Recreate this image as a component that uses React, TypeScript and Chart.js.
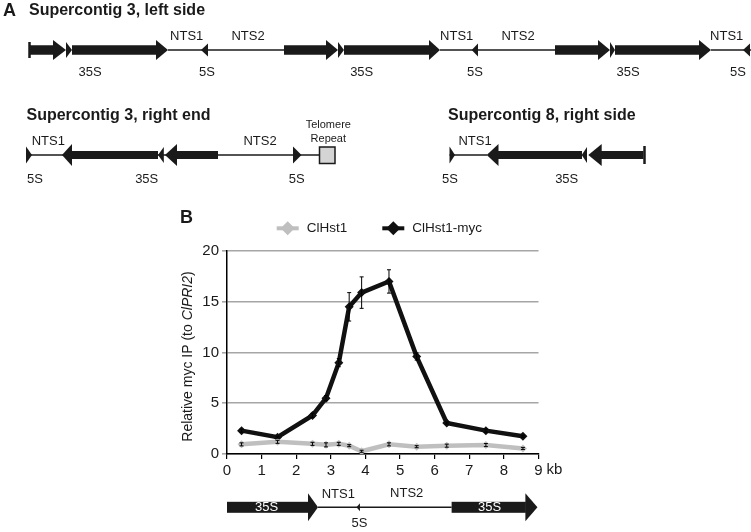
import React, { useEffect, useRef } from "react";
import { Chart, registerables } from "chart.js";

Chart.register(...registerables);

// ---------- data ----------
const positionsKb = [0.42, 1.46, 2.47, 2.86, 3.23, 3.53, 3.89, 4.68, 5.48, 6.35, 7.48, 8.55];
const hst1Values = [0.95, 1.2, 1.0, 0.9, 1.0, 0.82, 0.27, 0.95, 0.72, 0.82, 0.88, 0.55];
const hst1Errors = [0.15, 0.15, 0.15, 0.2, 0.15, 0.1, 0.1, 0.15, 0.1, 0.15, 0.15, 0.1];
const mycValues = [2.3, 1.65, 3.8, 5.5, 9.0, 14.5, 15.9, 17.0, 9.6, 3.05, 2.3, 1.75];
const mycErrors = [0.15, 0.1, 0.2, 0.25, 0.4, 1.4, 1.55, 1.15, 0.35, 0.1, 0.15, 0.1];
const seriesLabels = ["ClHst1", "ClHst1-myc"];
const seriesColors = ["#bfbfbf", "#111111"];
const yMin = 0;
const yMax = 20;
const yStep = 5;
const xMin = 0;
const xMax = 9;
const xUnit = "kb";
const yTitleParts = ["Relative myc IP (to ", "ClPRI2", ")"];
// rDNA unit features drawn under the x axis (in kb)
const unit35SLeftEnd = 2.34;
const unit35SLeftTip = 2.63;
const unit5S = 3.74;
const unit35SRightStart = 6.49;
const unit35SRightBase = 8.62;
const unit35SRightTip = 8.97;

const FONT = '"Liberation Sans", Arial, Helvetica, sans-serif';
const INK = "#1a1a1a";

type Ctx = CanvasRenderingContext2D;

function bar(ctx: Ctx, x1: number, x2: number, y: number, h: number) {
  ctx.fillStyle = INK;
  ctx.fillRect(x1, y - h / 2, x2 - x1, h);
}
function head(ctx: Ctx, base: number, tip: number, y: number, half: number) {
  ctx.fillStyle = INK;
  ctx.beginPath();
  ctx.moveTo(base, y - half);
  ctx.lineTo(tip, y);
  ctx.lineTo(base, y + half);
  ctx.closePath();
  ctx.fill();
}
function thin(ctx: Ctx, x1: number, x2: number, y: number, w = 1.3) {
  ctx.strokeStyle = INK;
  ctx.lineWidth = w;
  ctx.beginPath();
  ctx.moveTo(x1, y);
  ctx.lineTo(x2, y);
  ctx.stroke();
}
function cap(ctx: Ctx, x: number, y: number, half: number) {
  ctx.strokeStyle = INK;
  ctx.lineWidth = 2.5;
  ctx.beginPath();
  ctx.moveTo(x, y - half);
  ctx.lineTo(x, y + half);
  ctx.stroke();
}
function txt(ctx: Ctx, s: string, x: number, y: number, font: string, align: CanvasTextAlign = "center", color = INK) {
  ctx.font = font;
  ctx.fillStyle = color;
  ctx.textAlign = align;
  ctx.textBaseline = "middle";
  ctx.fillText(s, x, y);
}

function drawDiagrams(ctx: Ctx) {
  const title = `bold 16px ${FONT}`;
  const lab = `13px ${FONT}`;
  // Panel A
  txt(ctx, "A", 3, 11, `bold 18px ${FONT}`, "left");
  txt(ctx, "Supercontig 3, left side", 29, 11, title, "left");
  const yA = 50;
  thin(ctx, 168, 284, yA);
  thin(ctx, 440, 555, yA);
  thin(ctx, 711, 751, yA);
  cap(ctx, 29.5, yA, 8);
  bar(ctx, 30, 54, yA, 9.5);
  head(ctx, 53, 66, yA, 10);
  head(ctx, 66, 72, yA, 8);
  bar(ctx, 72, 157, yA, 9.5);
  head(ctx, 156, 168, yA, 10);
  head(ctx, 208, 201, yA, 6.5);
  bar(ctx, 284, 327, yA, 9.5);
  head(ctx, 326, 338, yA, 10);
  head(ctx, 338, 344, yA, 8);
  bar(ctx, 344, 430, yA, 9.5);
  head(ctx, 429, 440, yA, 10);
  head(ctx, 478, 471.7, yA, 6.5);
  bar(ctx, 555, 599, yA, 9.5);
  head(ctx, 598, 610, yA, 10);
  head(ctx, 610, 615, yA, 8);
  bar(ctx, 615, 700, yA, 9.5);
  head(ctx, 699, 711, yA, 10);
  head(ctx, 750, 743, yA, 6.5);
  [["35S", 90, 72], ["NTS1", 186.7, 36], ["5S", 207, 72], ["NTS2", 248, 36], ["35S", 361.7, 72],
   ["NTS1", 456.7, 36], ["5S", 475, 72], ["NTS2", 518, 36], ["35S", 628, 72], ["NTS1", 726.7, 36], ["5S", 738, 72]]
    .forEach(([s, x, y]) => txt(ctx, s as string, x as number, y as number, lab));

  // Supercontig 3, right end
  txt(ctx, "Supercontig 3, right end", 26.5, 115.5, title, "left");
  const y2 = 155;
  thin(ctx, 26, 320, y2);
  head(ctx, 26, 32, y2, 8.5);
  head(ctx, 72, 62, y2, 11);
  bar(ctx, 71, 158, y2, 8);
  head(ctx, 163.8, 158, y2, 8);
  head(ctx, 177, 165, y2, 11);
  bar(ctx, 176, 218, y2, 8);
  head(ctx, 293, 301.5, y2, 8.5);
  ctx.fillStyle = "#d4d4d4";
  ctx.fillRect(319.5, 147, 15.5, 16.5);
  ctx.strokeStyle = INK;
  ctx.lineWidth = 1.5;
  ctx.strokeRect(319.5, 147, 15.5, 16.5);
  [["NTS1", 48.3, 141.7], ["5S", 35, 179], ["35S", 146.7, 179], ["NTS2", 260, 141.7], ["5S", 296.7, 179]]
    .forEach(([s, x, y]) => txt(ctx, s as string, x as number, y as number, lab));
  txt(ctx, "Telomere", 328.3, 125, `11px ${FONT}`);
  txt(ctx, "Repeat", 328.3, 139.3, `11px ${FONT}`);

  // Supercontig 8, right side
  txt(ctx, "Supercontig 8, right side", 448, 115.5, title, "left");
  const y3 = 155;
  thin(ctx, 449.5, 487, y3);
  head(ctx, 449.5, 455, y3, 8.5);
  head(ctx, 498.5, 486.7, y3, 11);
  bar(ctx, 498, 582, y3, 8);
  head(ctx, 587, 581.7, y3, 8);
  head(ctx, 601.7, 588.3, y3, 11);
  bar(ctx, 601, 643.5, y3, 8);
  cap(ctx, 644.5, y3, 9);
  [["NTS1", 475, 141.7], ["5S", 450, 179], ["35S", 566.7, 179]]
    .forEach(([s, x, y]) => txt(ctx, s as string, x as number, y as number, lab));
}

const customPlugin = {
  id: "custom",
  afterDatasetsDraw(chart: any) {
    const ctx: Ctx = chart.ctx;
    const xs = chart.scales.x;
    const ys = chart.scales.y;
    const errs = [hst1Errors, mycErrors];
    const vals = [hst1Values, mycValues];
    ctx.save();
    ctx.strokeStyle = "#000";
    ctx.lineWidth = 1;
    vals.forEach((v, si) => {
      v.forEach((val, i) => {
        const x = xs.getPixelForValue(positionsKb[i]);
        const yt = ys.getPixelForValue(val + errs[si][i]);
        const yb = ys.getPixelForValue(val - errs[si][i]);
        ctx.beginPath();
        ctx.moveTo(x, yt);
        ctx.lineTo(x, yb);
        ctx.moveTo(x - 2, yt);
        ctx.lineTo(x + 2, yt);
        ctx.moveTo(x - 2, yb);
        ctx.lineTo(x + 2, yb);
        ctx.stroke();
      });
    });
    ctx.restore();
  },
  afterDraw(chart: any) {
    const ctx: Ctx = chart.ctx;
    const xs = chart.scales.x;
    const ys = chart.scales.y;
    ctx.save();
    drawDiagrams(ctx);

    // Panel B label
    txt(ctx, "B", 180, 218, `bold 18px ${FONT}`, "left");

    // legend
    const legY = 228.3;
    const legX = [276.7, 382.3];
    chart.data.datasets.forEach((ds: any, i: number) => {
      const x0 = legX[i];
      ctx.strokeStyle = ds.borderColor;
      ctx.lineWidth = 4;
      ctx.beginPath();
      ctx.moveTo(x0, legY);
      ctx.lineTo(x0 + 22, legY);
      ctx.stroke();
      ctx.fillStyle = ds.borderColor;
      const cx = x0 + 11;
      ctx.beginPath();
      ctx.moveTo(cx, legY - 7);
      ctx.lineTo(cx + 7, legY);
      ctx.lineTo(cx, legY + 7);
      ctx.lineTo(cx - 7, legY);
      ctx.closePath();
      ctx.fill();
      txt(ctx, ds.label, x0 + 30, legY, `13.5px ${FONT}`, "left");
    });

    // y axis title with italic gene name
    const fN = `14px ${FONT}`;
    const fI = `italic 14px ${FONT}`;
    ctx.font = fN;
    const w0 = ctx.measureText(yTitleParts[0]).width;
    const w2 = ctx.measureText(yTitleParts[2]).width;
    ctx.font = fI;
    const w1 = ctx.measureText(yTitleParts[1]).width;
    const total = w0 + w1 + w2;
    ctx.save();
    ctx.translate(188, (ys.top + ys.bottom) / 2 + 4);
    ctx.rotate(-Math.PI / 2);
    let cx = -total / 2;
    txt(ctx, yTitleParts[0], cx, 0, fN, "left");
    cx += w0;
    txt(ctx, yTitleParts[1], cx, 0, fI, "left");
    cx += w1;
    txt(ctx, yTitleParts[2], cx, 0, fN, "left");
    ctx.restore();

    // x unit label
    txt(ctx, xUnit, xs.getPixelForValue(xMax) + 16, 470, `15px ${FONT}`, "center");

    // rDNA unit below axis
    const yU = 507.3;
    const p = (v: number) => xs.getPixelForValue(v);
    thin(ctx, p(unit35SLeftTip), p(unit35SRightStart), yU, 1.6);
    bar(ctx, p(0), p(unit35SLeftEnd) + 0.5, yU, 11);
    head(ctx, p(unit35SLeftEnd), p(unit35SLeftTip), yU, 14);
    head(ctx, p(unit5S) + 3.5, p(unit5S), yU, 4);
    bar(ctx, p(unit35SRightStart), p(unit35SRightBase) + 0.5, yU, 11);
    head(ctx, p(unit35SRightBase), p(unit35SRightTip), yU, 14);
    const lab = `13px ${FONT}`;
    txt(ctx, "35S", (p(0) + p(unit35SLeftEnd)) / 2 - 1, yU, lab, "center", "#ffffff");
    txt(ctx, "35S", (p(unit35SRightStart) + p(unit35SRightBase)) / 2 + 1, yU, lab, "center", "#ffffff");
    txt(ctx, "NTS1", 338.3, 494, lab);
    txt(ctx, "NTS2", 406.7, 493, lab);
    txt(ctx, "5S", p(unit5S) + 3, 523.3, lab);
    ctx.restore();
  },
};

export default function App() {
  const ref = useRef<HTMLCanvasElement | null>(null);
  useEffect(() => {
    if (!ref.current) return;
    const chart = new Chart(ref.current, {
      type: "line",
      data: {
        datasets: [
          {
            label: seriesLabels[0],
            data: positionsKb.map((x, i) => ({ x, y: hst1Values[i] })),
            borderColor: seriesColors[0],
            backgroundColor: seriesColors[0],
            borderWidth: 4.5,
            pointStyle: "rectRot",
            pointRadius: 4,
            pointBorderWidth: 0,
            tension: 0,
          },
          {
            label: seriesLabels[1],
            data: positionsKb.map((x, i) => ({ x, y: mycValues[i] })),
            borderColor: seriesColors[1],
            backgroundColor: seriesColors[1],
            borderWidth: 4.5,
            pointStyle: "rectRot",
            pointRadius: 4.5,
            pointBorderWidth: 0,
            tension: 0,
          },
        ],
      },
      options: {
        animation: false,
        responsive: false,
        devicePixelRatio: 1,
        layout: { padding: { left: 0, top: 251, right: 212.5, bottom: 0 } },
        plugins: { legend: { display: false }, tooltip: { enabled: false } },
        scales: {
          x: {
            type: "linear",
            min: xMin,
            max: xMax,
            ticks: { stepSize: 1, color: INK, font: { family: FONT, size: 15 }, padding: 3 },
            grid: { drawOnChartArea: false, drawTicks: true, tickLength: 5, color: "#000", lineWidth: 1.2 },
            border: { color: "#000", width: 1.5 },
            afterFit: (s: any) => { s.height = 78; },
          },
          y: {
            min: yMin,
            max: yMax,
            ticks: { stepSize: yStep, color: INK, font: { family: FONT, size: 15 }, padding: 3 },
            grid: { color: "#a6a6a6", lineWidth: 1.6, tickLength: 5, drawTicks: true },
            border: { color: "#000", width: 1.5 },
            afterFit: (s: any) => { s.width = 227; },
          },
        },
      } as any,
      plugins: [customPlugin],
    });
    return () => chart.destroy();
  }, []);
  return (
    <div style={{ position: "absolute", left: 0, top: 0, width: 751, height: 532, background: "#fff" }}>
      <canvas ref={ref} width={751} height={532} style={{ display: "block" }} />
    </div>
  );
}
